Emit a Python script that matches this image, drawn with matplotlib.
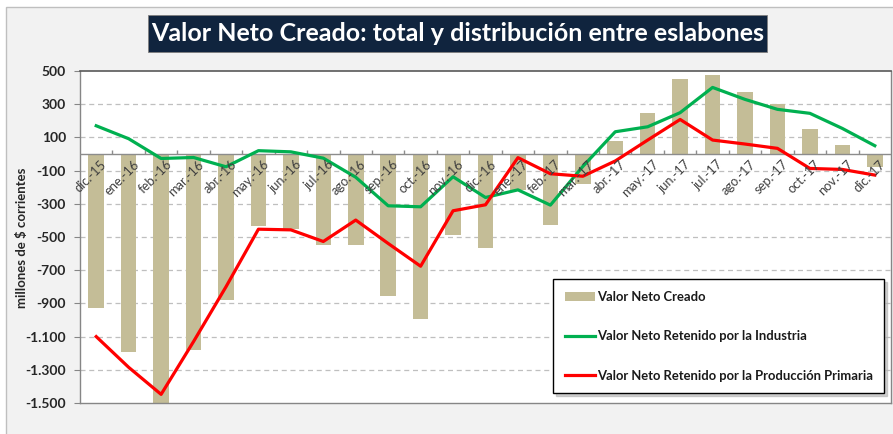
import matplotlib
matplotlib.use('Agg')
import matplotlib.pyplot as plt
import numpy as np
from matplotlib.patches import Rectangle, Patch
from matplotlib.lines import Line2D

categories = ["dic.-15", "ene.-16", "feb.-16", "mar.-16", "abr.-16", "may.-16",
              "jun.-16", "jul.-16", "ago.-16", "sep.-16", "oct.-16", "nov.-16",
              "dic.-16", "ene.-17", "feb.-17", "mar.-17", "abr.-17", "may.-17",
              "jun.-17", "jul.-17", "ago.-17", "sep.-17", "oct.-17", "nov.-17",
              "dic.-17"]

valor_neto_creado = [-930, -1195, -1510, -1180, -880, -435, -452, -550, -550, -855,
                     -995, -487, -569, -218, -429, -180, 78, 245, 452, 476, 375,
                     300, 148, 52, -81]

industria = [170, 92, -27, -21, -77, 20, 13, -25, -140, -312, -318, -137, -262,
             -216, -308, -75, 134, 164, 249, 401, 329, 269, 245, 154, 50]

primaria = [-1100, -1285, -1448, -1130, -800, -453, -457, -527, -398, -539, -676,
            -342, -306, -22, -119, -134, -42, 84, 208, 84, 60, 34, -87, -93, -127]

title = "Valor Neto Creado: total y distribución entre eslabones"
ylabel = "millones de $ corrientes"
legend_labels = ["Valor Neto Creado", "Valor Neto Retenido por la Industria",
                 "Valor Neto Retenido por la Producción Primaria"]

plt.rcParams['font.family'] = ['Lato', 'DejaVu Sans']

W, H = 893, 434
fig = plt.figure(figsize=(W / 100, H / 100), dpi=100)
fig.patch.set_facecolor('white')

# outer chart background
bg = Rectangle((6 / W, -0.01), 1.02 - 6 / W, 1 - 7 / H + 0.01, transform=fig.transFigure,
               facecolor='#f2f2f2', edgecolor='#bfbfbf', lw=1.0, zorder=-2)
fig.patches.append(bg)

# title box
tb = Rectangle((148 / W, 1 - 52 / H), (767 - 148) / W, 37 / H, transform=fig.transFigure,
               facecolor='#10243e', edgecolor='#7f7f7f', lw=0.6, zorder=-1)
fig.patches.append(tb)
fig.text((148 + 767) / 2 / W, 1 - 33.5 / H, title, color='white', fontsize=18,
         fontweight='bold', ha='center', va='center', zorder=2)

ax = fig.add_axes([80 / W, (H - 403) / H, 811 / W, 332 / H])
ax.set_zorder(3)
ax.set_facecolor('white')
x = np.arange(len(categories))

ax.bar(x, valor_neto_creado, width=0.48, color='#c4bd97', zorder=2)
ax.plot(x, industria, color='#00b050', lw=2.3, zorder=4)
ax.plot(x, primaria, color='#ff0000', lw=2.3, zorder=4)

ax.set_xlim(-0.5, len(categories) - 0.5)
ax.set_ylim(-1500, 500)
yticks = np.arange(-1500, 501, 200)
ax.set_yticks(yticks)
ax.set_yticklabels([f"{v:,}".replace(',', '.') for v in yticks])
for v in yticks[1:-1]:
    ax.axhline(v, color='#bfbfbf', lw=0.9, ls=(0, (4, 3)), zorder=1)

ax.axhline(0, color='#8c8c8c', lw=1.0, zorder=3)
ax.vlines(x[:-1] + 0.5, 0, 25, color='#8c8c8c', lw=1.0, zorder=3)

ax.set_xticks([])
for xi, lab in zip(x, categories):
    ax.annotate(lab, xy=(xi, 0), xytext=(3, -3), textcoords='offset points',
                rotation=45, ha='right', va='top', rotation_mode='anchor',
                fontsize=9.3, color='#404040', zorder=5)

ax.tick_params(axis='y', labelsize=10, labelcolor='#262626', length=4,
               color='#868686', direction='out', pad=6)
for t in ax.get_yticklabels():
    t.set_fontweight('bold')

for s in ['left', 'bottom', 'right']:
    ax.spines[s].set_color('#868686')
    ax.spines[s].set_linewidth(1.0)
ax.spines['top'].set_color('#595959')
ax.spines['top'].set_linewidth(1.2)

fig.text(22 / W, 1 - 238 / H, ylabel, rotation=90, ha='center', va='center',
         fontsize=9.5, fontweight='bold', color='#262626')

handles = [Patch(facecolor='#c4bd97', edgecolor='none'),
           Line2D([0], [0], color='#00b050', lw=2.3),
           Line2D([0], [0], color='#ff0000', lw=2.3)]
leg = ax.legend(handles, legend_labels, loc='upper left',
                bbox_to_anchor=(553 / W, 1 - 279 / H), bbox_transform=fig.transFigure,
                frameon=True, fancybox=False, shadow={'color': '#b0b0b0', 'alpha': 0.6},
                labelspacing=2.1, handlelength=2.3, handletextpad=0.15,
                borderpad=0.9, borderaxespad=0,
                prop={'weight': 'bold', 'size': 9.4})
leg.get_frame().set_edgecolor('black')
leg.get_frame().set_linewidth(1.0)
leg.set_zorder(10)
for t in leg.get_texts():
    t.set_color('#1a1a1a')

fig.savefig('out.png', dpi=100, facecolor=fig.get_facecolor())
